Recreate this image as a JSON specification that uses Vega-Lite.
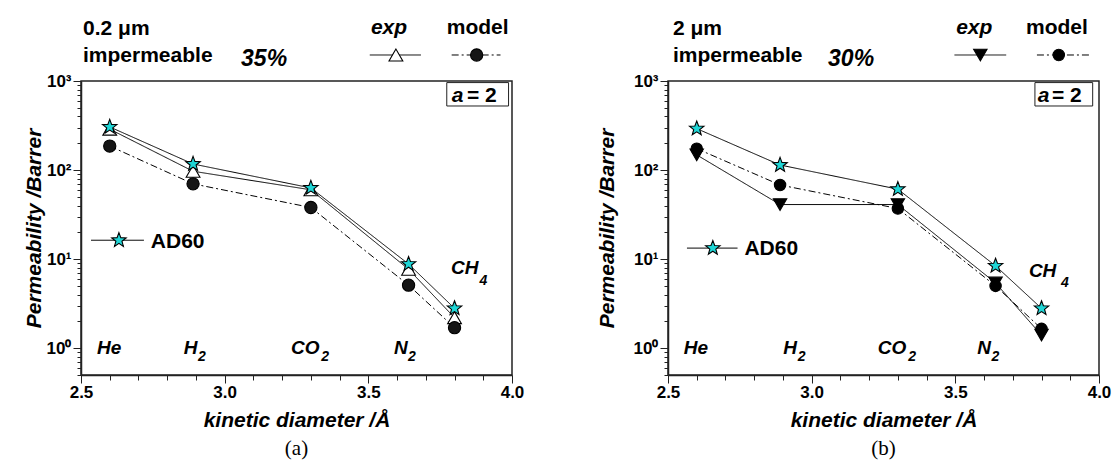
{
  "$schema": "https://vega.github.io/schema/vega-lite/v6.json",
  "padding": {"left": 22, "top": 16, "right": 0, "bottom": 5},
  "spacing": 70,
  "resolve": {"scale": {"shape": "independent", "fill": "independent", "size": "independent", "strokeDash": "independent", "x": "independent", "y": "independent"}},
  "config": {
    "font": "Liberation Sans",
    "view": {"stroke": "#222", "strokeWidth": 1.5},
    "axis": {"domainColor": "#222", "domainWidth": 1.5, "tickColor": "#222", "tickWidth": 1, "labelColor": "black", "titleColor": "black", "labelFont": "Liberation Sans", "labelFontWeight": "bold", "labelFontSize": 17, "titleFont": "Liberation Sans", "titleFontWeight": "bold", "titleFontStyle": "italic", "titleFontSize": 21, "grid": false, "labelOverlap": false},
    "legend": {"disable": true},
    "title": {"font": "Liberation Serif", "fontSize": 21, "fontWeight": "normal", "color": "black"}
  },
  "datasets": {
    "aS": [
      {"gas": "He", "x": 2.6, "y": 288, "series": "exp"},
      {"gas": "H2", "x": 2.89, "y": 97, "series": "exp"},
      {"gas": "CO2", "x": 3.3, "y": 60, "series": "exp"},
      {"gas": "N2", "x": 3.64, "y": 7.7, "series": "exp"},
      {"gas": "CH4", "x": 3.8, "y": 2.2, "series": "exp"},
      {"gas": "He", "x": 2.6, "y": 186, "series": "model"},
      {"gas": "H2", "x": 2.89, "y": 70, "series": "model"},
      {"gas": "CO2", "x": 3.3, "y": 38, "series": "model"},
      {"gas": "N2", "x": 3.64, "y": 5.1, "series": "model"},
      {"gas": "CH4", "x": 3.8, "y": 1.7, "series": "model"},
      {"gas": "He", "x": 2.6, "y": 305, "series": "AD60"},
      {"gas": "H2", "x": 2.89, "y": 117, "series": "AD60"},
      {"gas": "CO2", "x": 3.3, "y": 63, "series": "AD60"},
      {"gas": "N2", "x": 3.64, "y": 8.8, "series": "AD60"},
      {"gas": "CH4", "x": 3.8, "y": 2.8, "series": "AD60"}
    ],
    "aR": [
      {"series": "exp", "x": 3.505, "x2": 3.683, "y": 1959},
      {"series": "model", "x": 3.79, "x2": 3.96, "y": 1959},
      {"series": "AD60", "x": 2.535, "x2": 2.719, "y": 16.3}
    ],
    "aP": [
      {"series": "exp", "x": 3.596, "y": 1959},
      {"series": "model", "x": 3.877, "y": 1959},
      {"series": "AD60", "x": 2.632, "y": 16.3}
    ],
    "aT1": [
      {"t": "0.2 μm", "x": 2.507, "y": 3285},
      {"t": "impermeable", "x": 2.507, "y": 1634},
      {"t": "model", "x": 3.773, "y": 3372},
      {"t": "AD60", "x": 2.743, "y": 13.5},
      {"t": "= 2", "x": 3.843, "y": 581}
    ],
    "aT2": [
      {"t": "exp", "x": 3.509, "y": 3372},
      {"t": "a", "x": 3.79, "y": 581}
    ],
    "aG": [
      {"t": "He", "x": 2.556, "y": 0.86},
      {"t": "H", "x": 2.858, "y": 0.86},
      {"t": "CO", "x": 3.231, "y": 0.86},
      {"t": "N", "x": 3.589, "y": 0.86},
      {"t": "CH", "x": 3.788, "y": 6.8}
    ],
    "aT3": [{"t": "35%", "x": 3.057, "y": 1480}],
    "aSub": [
      {"t": "2", "x": 2.907, "y": 0.72},
      {"t": "2", "x": 3.336, "y": 0.72},
      {"t": "2", "x": 3.638, "y": 0.72},
      {"t": "4", "x": 3.887, "y": 5.1}
    ],
    "aBox": [{"x": 3.773, "x2": 3.988, "y": 524, "y2": 960}],
    "bS": [
      {"gas": "He", "x": 2.6, "y": 148, "series": "exp"},
      {"gas": "H2", "x": 2.89, "y": 41, "series": "exp"},
      {"gas": "CO2", "x": 3.3, "y": 41, "series": "exp"},
      {"gas": "N2", "x": 3.64, "y": 5.4, "series": "exp"},
      {"gas": "CH4", "x": 3.8, "y": 1.4, "series": "exp"},
      {"gas": "He", "x": 2.6, "y": 174, "series": "model"},
      {"gas": "H2", "x": 2.89, "y": 68, "series": "model"},
      {"gas": "CO2", "x": 3.3, "y": 37, "series": "model"},
      {"gas": "N2", "x": 3.64, "y": 5.0, "series": "model"},
      {"gas": "CH4", "x": 3.8, "y": 1.65, "series": "model"},
      {"gas": "He", "x": 2.6, "y": 292, "series": "AD60"},
      {"gas": "H2", "x": 2.89, "y": 114, "series": "AD60"},
      {"gas": "CO2", "x": 3.3, "y": 61, "series": "AD60"},
      {"gas": "N2", "x": 3.64, "y": 8.4, "series": "AD60"},
      {"gas": "CH4", "x": 3.8, "y": 2.8, "series": "AD60"}
    ],
    "bR": [
      {"series": "exp", "x": 3.497, "x2": 3.677, "y": 1959},
      {"series": "model", "x": 3.784, "x2": 3.97, "y": 1959},
      {"series": "AD60", "x": 2.566, "x2": 2.742, "y": 13.3}
    ],
    "bP": [
      {"series": "exp", "x": 3.587, "y": 1959},
      {"series": "model", "x": 3.86, "y": 1959},
      {"series": "AD60", "x": 2.656, "y": 13.3}
    ],
    "bT1": [
      {"t": "2 μm", "x": 2.517, "y": 3285},
      {"t": "impermeable", "x": 2.517, "y": 1634},
      {"t": "model", "x": 3.746, "y": 3372},
      {"t": "AD60", "x": 2.766, "y": 11.0},
      {"t": "= 2", "x": 3.836, "y": 581}
    ],
    "bT2": [
      {"t": "exp", "x": 3.503, "y": 3372},
      {"t": "a", "x": 3.787, "y": 581}
    ],
    "bG": [
      {"t": "He", "x": 2.555, "y": 0.86},
      {"t": "H", "x": 2.901, "y": 0.86},
      {"t": "CO", "x": 3.23, "y": 0.86},
      {"t": "N", "x": 3.576, "y": 0.86},
      {"t": "CH", "x": 3.756, "y": 6.3}
    ],
    "bT3": [{"t": "30%", "x": 3.057, "y": 1480}],
    "bSub": [
      {"t": "2", "x": 2.952, "y": 0.72},
      {"t": "2", "x": 3.336, "y": 0.72},
      {"t": "2", "x": 3.626, "y": 0.72},
      {"t": "4", "x": 3.868, "y": 4.9}
    ],
    "bBox": [{"x": 3.777, "x2": 3.978, "y": 524, "y2": 960}]
  },
  "hconcat": [
    {
      "width": 431,
      "height": 294,
      "title": {"text": "(a)", "orient": "bottom", "offset": 8},
      "resolve": {"axis": {"x": "independent"}},
      "layer": [
        {
          "data": {"name": "aS"},
          "mark": {"type": "line", "color": "black", "strokeWidth": 1},
          "encoding": {
            "x": {"field": "x", "type": "quantitative", "scale": {"domain": [2.5, 4], "nice": false, "zero": false},
              "axis": {"orient": "bottom", "title": "kinetic diameter /Å", "values": [2.5, 3, 3.5, 4], "format": ".1f", "labelFlush": false, "labelOverlap": false, "tickSize": 8, "labelPadding": 1, "titlePadding": 9}},
            "y": {"field": "y", "type": "quantitative", "scale": {"type": "log", "domain": [0.5, 1000], "nice": false},
              "axis": {"title": "Permeability /Barrer", "values": [0.5, 0.6, 0.7, 0.8, 0.9, 1, 2, 3, 4, 5, 6, 7, 8, 9, 10, 20, 30, 40, 50, 60, 70, 80, 90, 100, 200, 300, 400, 500, 600, 700, 800, 900, 1000], "labelExpr": "datum.value==1 ? '10⁰' : datum.value==10 ? '10¹' : datum.value==100 ? '10²' : datum.value==1000 ? '10³' : ''", "labelOverlap": false, "tickSize": {"condition": {"test": "datum.value==1||datum.value==10||datum.value==100||datum.value==1000", "value": 8}, "value": 4}, "labelPadding": 2, "titlePadding": 2}},
            "detail": {"field": "series"},
            "strokeDash": {"field": "series", "type": "nominal", "scale": {"domain": ["AD60", "exp", "model"], "range": [[1, 0], [1, 0], [7, 3, 2, 3]]}}
          }
        },
        {
          "data": {"name": "aR"},
          "mark": {"type": "rule", "color": "black", "strokeWidth": 1},
          "encoding": {
            "x": {"field": "x", "type": "quantitative", "axis": {"orient": "bottom", "title": null, "values": [2.6, 2.7, 2.8, 2.9, 3.1, 3.2, 3.3, 3.4, 3.6, 3.7, 3.8, 3.9], "labels": false, "domain": false, "tickSize": 5}},
            "x2": {"field": "x2"},
            "y": {"field": "y", "type": "quantitative"},
            "strokeDash": {"field": "series", "type": "nominal"}
          }
        },
        {
          "data": {"name": "aS"},
          "mark": {"type": "point", "filled": true, "stroke": "black", "strokeWidth": 1.1, "opacity": 1},
          "encoding": {
            "x": {"field": "x", "type": "quantitative", "axis": null},
            "y": {"field": "y", "type": "quantitative"},
            "shape": {"field": "series", "type": "nominal", "scale": {"domain": ["AD60", "exp", "model"], "range": ["M0,-1L0.247,-0.34L0.951,-0.309L0.399,0.13L0.588,0.809L0,0.42L-0.588,0.809L-0.399,0.13L-0.951,-0.309L-0.247,-0.34Z", "triangle-up", "circle"]}},
            "fill": {"field": "series", "type": "nominal", "scale": {"domain": ["AD60", "exp", "model"], "range": ["#1fd6d6", "#ffffff", "#151515"]}},
            "size": {"field": "series", "type": "nominal", "scale": {"domain": ["AD60", "exp", "model"], "range": [230, 150, 100]}}
          }
        },
        {
          "data": {"name": "aP"},
          "mark": {"type": "point", "filled": true, "stroke": "black", "strokeWidth": 1.1, "opacity": 1},
          "encoding": {
            "x": {"field": "x", "type": "quantitative", "axis": null},
            "y": {"field": "y", "type": "quantitative"},
            "shape": {"field": "series", "type": "nominal"},
            "fill": {"field": "series", "type": "nominal"},
            "size": {"field": "series", "type": "nominal"}
          }
        },
        {
          "data": {"name": "aBox"},
          "mark": {"type": "rect", "fill": "white", "stroke": "#222", "strokeWidth": 1},
          "encoding": {
            "x": {"field": "x", "type": "quantitative", "axis": null},
            "x2": {"field": "x2"},
            "y": {"field": "y", "type": "quantitative"},
            "y2": {"field": "y2"}
          }
        },
        {
          "data": {"name": "aT1"},
          "mark": {"type": "text", "align": "left", "baseline": "alphabetic", "fontWeight": "bold", "fontSize": 21, "color": "black"},
          "encoding": {"x": {"field": "x", "type": "quantitative", "axis": null}, "y": {"field": "y", "type": "quantitative"}, "text": {"field": "t"}}
        },
        {
          "data": {"name": "aT2"},
          "mark": {"type": "text", "align": "left", "baseline": "alphabetic", "fontWeight": "bold", "fontStyle": "italic", "fontSize": 21, "color": "black"},
          "encoding": {"x": {"field": "x", "type": "quantitative", "axis": null}, "y": {"field": "y", "type": "quantitative"}, "text": {"field": "t"}}
        },
        {
          "data": {"name": "aG"},
          "mark": {"type": "text", "align": "left", "baseline": "alphabetic", "fontWeight": "bold", "fontStyle": "italic", "fontSize": 19, "color": "black"},
          "encoding": {"x": {"field": "x", "type": "quantitative", "axis": null}, "y": {"field": "y", "type": "quantitative"}, "text": {"field": "t"}}
        },
        {
          "data": {"name": "aT3"},
          "mark": {"type": "text", "align": "left", "baseline": "alphabetic", "fontWeight": "bold", "fontStyle": "italic", "fontSize": 23, "color": "black"},
          "encoding": {"x": {"field": "x", "type": "quantitative", "axis": null}, "y": {"field": "y", "type": "quantitative"}, "text": {"field": "t"}}
        },
        {
          "data": {"name": "aSub"},
          "mark": {"type": "text", "align": "left", "baseline": "alphabetic", "fontWeight": "bold", "fontStyle": "italic", "fontSize": 14, "color": "black"},
          "encoding": {"x": {"field": "x", "type": "quantitative", "axis": null}, "y": {"field": "y", "type": "quantitative"}, "text": {"field": "t"}}
        }
      ]
    },
    {
      "width": 431,
      "height": 294,
      "title": {"text": "(b)", "orient": "bottom", "offset": 8},
      "resolve": {"axis": {"x": "independent"}},
      "layer": [
        {
          "data": {"name": "bS"},
          "mark": {"type": "line", "color": "black", "strokeWidth": 1},
          "encoding": {
            "x": {"field": "x", "type": "quantitative", "scale": {"domain": [2.5, 4], "nice": false, "zero": false},
              "axis": {"orient": "bottom", "title": "kinetic diameter /Å", "values": [2.5, 3, 3.5, 4], "format": ".1f", "labelFlush": false, "labelOverlap": false, "tickSize": 8, "labelPadding": 1, "titlePadding": 9}},
            "y": {"field": "y", "type": "quantitative", "scale": {"type": "log", "domain": [0.5, 1000], "nice": false},
              "axis": {"title": "Permeability /Barrer", "values": [0.5, 0.6, 0.7, 0.8, 0.9, 1, 2, 3, 4, 5, 6, 7, 8, 9, 10, 20, 30, 40, 50, 60, 70, 80, 90, 100, 200, 300, 400, 500, 600, 700, 800, 900, 1000], "labelExpr": "datum.value==1 ? '10⁰' : datum.value==10 ? '10¹' : datum.value==100 ? '10²' : datum.value==1000 ? '10³' : ''", "labelOverlap": false, "tickSize": {"condition": {"test": "datum.value==1||datum.value==10||datum.value==100||datum.value==1000", "value": 8}, "value": 4}, "labelPadding": 2, "titlePadding": 16}},
            "detail": {"field": "series"},
            "strokeDash": {"field": "series", "type": "nominal", "scale": {"domain": ["AD60", "exp", "model"], "range": [[1, 0], [1, 0], [7, 3, 2, 3]]}}
          }
        },
        {
          "data": {"name": "bR"},
          "mark": {"type": "rule", "color": "black", "strokeWidth": 1},
          "encoding": {
            "x": {"field": "x", "type": "quantitative", "axis": {"orient": "bottom", "title": null, "values": [2.6, 2.7, 2.8, 2.9, 3.1, 3.2, 3.3, 3.4, 3.6, 3.7, 3.8, 3.9], "labels": false, "domain": false, "tickSize": 5}},
            "x2": {"field": "x2"},
            "y": {"field": "y", "type": "quantitative"},
            "strokeDash": {"field": "series", "type": "nominal"}
          }
        },
        {
          "data": {"name": "bS"},
          "mark": {"type": "point", "filled": true, "stroke": "black", "strokeWidth": 1.1, "opacity": 1},
          "encoding": {
            "x": {"field": "x", "type": "quantitative", "axis": null},
            "y": {"field": "y", "type": "quantitative"},
            "shape": {"field": "series", "type": "nominal", "scale": {"domain": ["AD60", "exp", "model"], "range": ["M0,-1L0.247,-0.34L0.951,-0.309L0.399,0.13L0.588,0.809L0,0.42L-0.588,0.809L-0.399,0.13L-0.951,-0.309L-0.247,-0.34Z", "triangle-down", "circle"]}},
            "fill": {"field": "series", "type": "nominal", "scale": {"domain": ["AD60", "exp", "model"], "range": ["#1fd6d6", "#000000", "#000000"]}},
            "size": {"field": "series", "type": "nominal", "scale": {"domain": ["AD60", "exp", "model"], "range": [230, 130, 170]}}
          }
        },
        {
          "data": {"name": "bP"},
          "mark": {"type": "point", "filled": true, "stroke": "black", "strokeWidth": 1.1, "opacity": 1},
          "encoding": {
            "x": {"field": "x", "type": "quantitative", "axis": null},
            "y": {"field": "y", "type": "quantitative"},
            "shape": {"field": "series", "type": "nominal"},
            "fill": {"field": "series", "type": "nominal"},
            "size": {"field": "series", "type": "nominal"}
          }
        },
        {
          "data": {"name": "bBox"},
          "mark": {"type": "rect", "fill": "white", "stroke": "#222", "strokeWidth": 1},
          "encoding": {
            "x": {"field": "x", "type": "quantitative", "axis": null},
            "x2": {"field": "x2"},
            "y": {"field": "y", "type": "quantitative"},
            "y2": {"field": "y2"}
          }
        },
        {
          "data": {"name": "bT1"},
          "mark": {"type": "text", "align": "left", "baseline": "alphabetic", "fontWeight": "bold", "fontSize": 21, "color": "black"},
          "encoding": {"x": {"field": "x", "type": "quantitative", "axis": null}, "y": {"field": "y", "type": "quantitative"}, "text": {"field": "t"}}
        },
        {
          "data": {"name": "bT2"},
          "mark": {"type": "text", "align": "left", "baseline": "alphabetic", "fontWeight": "bold", "fontStyle": "italic", "fontSize": 21, "color": "black"},
          "encoding": {"x": {"field": "x", "type": "quantitative", "axis": null}, "y": {"field": "y", "type": "quantitative"}, "text": {"field": "t"}}
        },
        {
          "data": {"name": "bG"},
          "mark": {"type": "text", "align": "left", "baseline": "alphabetic", "fontWeight": "bold", "fontStyle": "italic", "fontSize": 19, "color": "black"},
          "encoding": {"x": {"field": "x", "type": "quantitative", "axis": null}, "y": {"field": "y", "type": "quantitative"}, "text": {"field": "t"}}
        },
        {
          "data": {"name": "bT3"},
          "mark": {"type": "text", "align": "left", "baseline": "alphabetic", "fontWeight": "bold", "fontStyle": "italic", "fontSize": 23, "color": "black"},
          "encoding": {"x": {"field": "x", "type": "quantitative", "axis": null}, "y": {"field": "y", "type": "quantitative"}, "text": {"field": "t"}}
        },
        {
          "data": {"name": "bSub"},
          "mark": {"type": "text", "align": "left", "baseline": "alphabetic", "fontWeight": "bold", "fontStyle": "italic", "fontSize": 14, "color": "black"},
          "encoding": {"x": {"field": "x", "type": "quantitative", "axis": null}, "y": {"field": "y", "type": "quantitative"}, "text": {"field": "t"}}
        }
      ]
    }
  ]
}
